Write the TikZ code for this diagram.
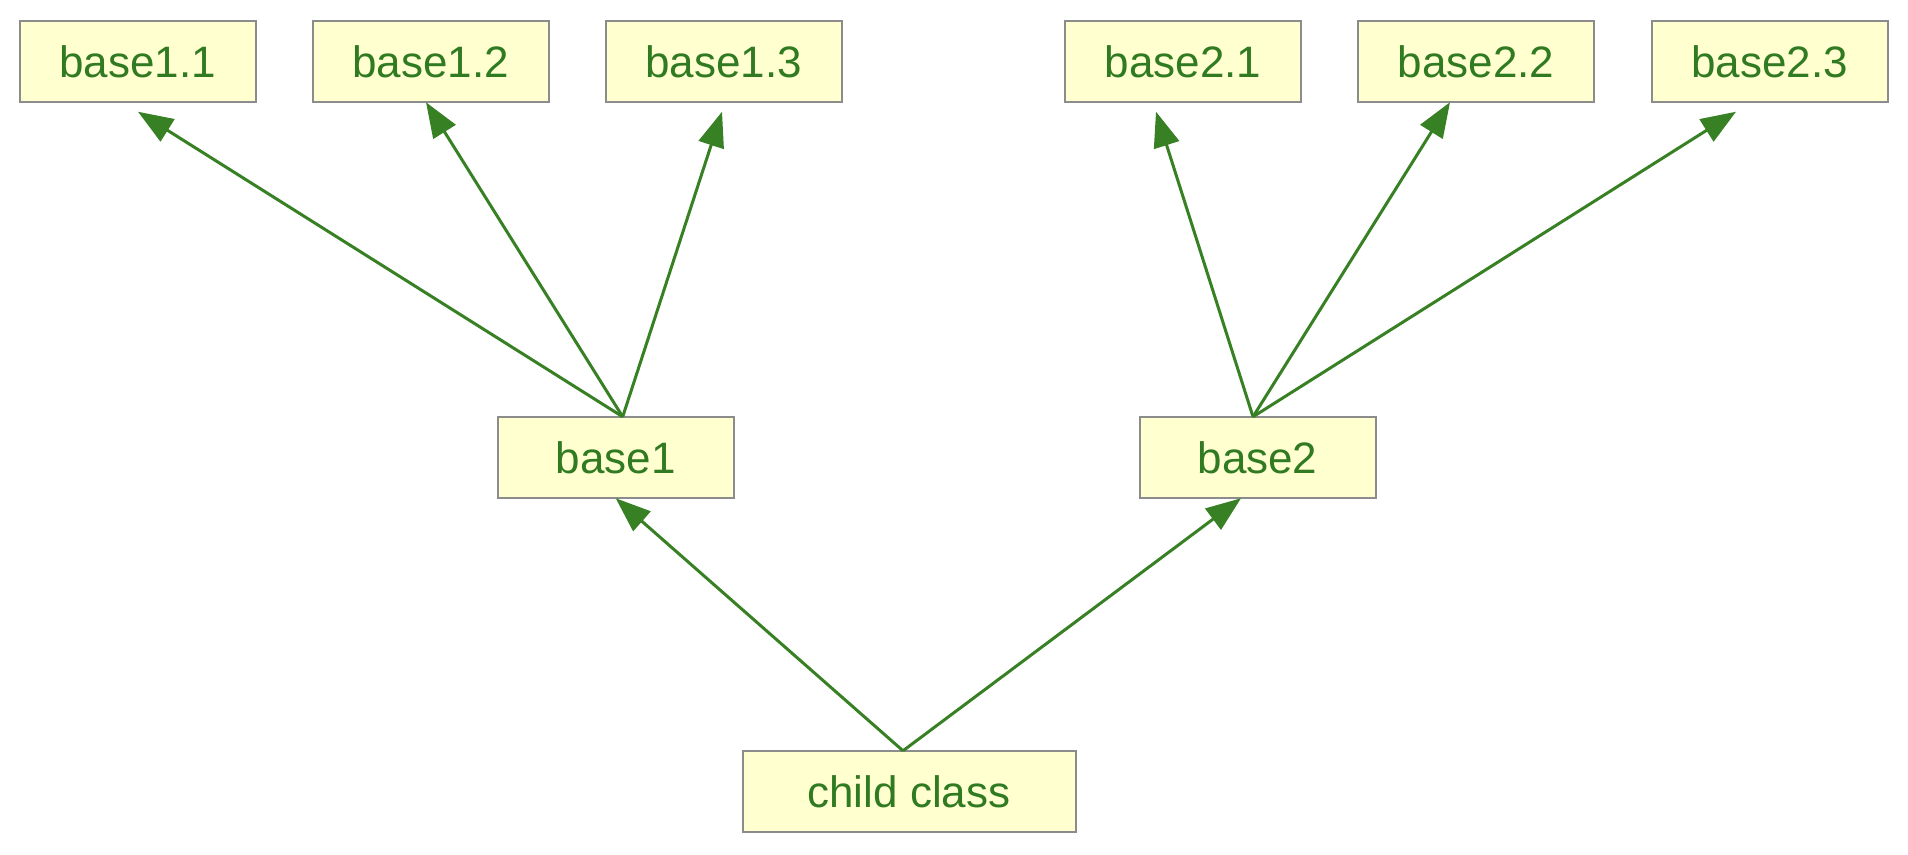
\documentclass[tikz,border=0pt]{standalone}
\usepackage{fontspec}
\setmainfont{Liberation Sans}
\usetikzlibrary{arrows.meta}
\definecolor{boxfill}{RGB}{255,255,208}
\definecolor{boxline}{RGB}{140,140,140}
\definecolor{txtgreen}{RGB}{48,122,34}
\definecolor{arrgreen}{RGB}{56,128,36}
\begin{document}
\begin{tikzpicture}[x=1pt,y=-1pt,
  cls/.style={draw=boxline, line width=2pt, fill=boxfill, text=txtgreen,
    minimum width=236pt, minimum height=81.5pt, inner sep=0pt, outer sep=0pt,
    font=\fontsize{44}{50}\selectfont},
  inh/.style={draw=arrgreen, line width=3pt,
    -{Triangle[length=35pt,width=26pt]}}]
\useasboundingbox (0,0) rectangle (1908,854);
\node[cls] (b11) at (137.5,61.5) {base1.1};
\node[cls] (b12) at (430.5,61.5) {base1.2};
\node[cls] (b13) at (723.5,61.5) {base1.3};
\node[cls] (b21) at (1183,61.5) {base2.1};
\node[cls] (b22) at (1476,61.5) {base2.2};
\node[cls] (b23) at (1769.5,61.5) {base2.3};
\node[cls] (b1) at (615.7,457.5) {base1};
\node[cls] (b2) at (1257.5,457.5) {base2};
\node[cls, minimum width=333pt] (child) at (909,791.5) {child class};
% connectors
\draw[inh] ([xshift=7pt]b1.north) -- ([xshift=0.5pt,yshift=-9.5pt]b11.south);
\draw[inh] ([xshift=7pt]b1.north) -- ([xshift=-4.5pt]b12.south);
\draw[inh] ([xshift=7pt]b1.north) -- ([xshift=-1.5pt,yshift=-9.5pt]b13.south);
\draw[inh] ([xshift=-4.5pt]b2.north) -- ([xshift=-27pt,yshift=-9.5pt]b21.south);
\draw[inh] ([xshift=-4.5pt]b2.north) -- ([xshift=-26pt]b22.south);
\draw[inh] ([xshift=-4.5pt]b2.north) -- ([xshift=-33.5pt,yshift=-9.5pt]b23.south);
\draw[inh] ([xshift=-6pt]child.north) -- ([xshift=0pt]b1.south);
\draw[inh] ([xshift=-6pt]child.north) -- ([xshift=-16.5pt]b2.south);
\end{tikzpicture}
\end{document}
